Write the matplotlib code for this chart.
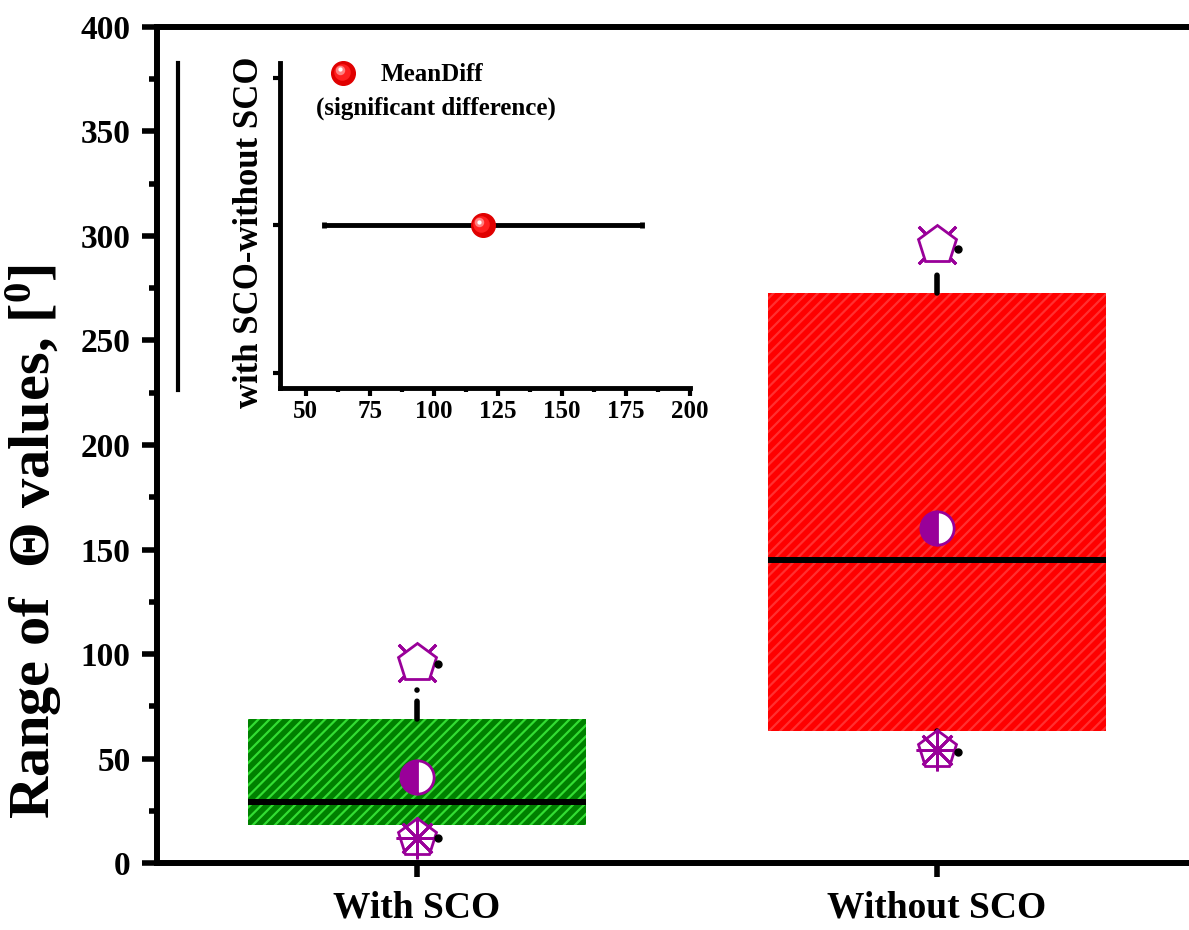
import matplotlib.pyplot as plt
import numpy as np
from matplotlib.lines import Line2D
from matplotlib.ticker import MultipleLocator, NullFormatter
from matplotlib.transforms import offset_copy

plt.rcParams['font.family'] = ['Liberation Serif', 'DejaVu Serif']
plt.rcParams['font.weight'] = 'bold'
plt.rcParams['axes.labelweight'] = 'bold'
plt.rcParams['mathtext.fontset'] = 'custom'
plt.rcParams['mathtext.rm'] = 'Liberation Serif:bold'
plt.rcParams['mathtext.bf'] = 'Liberation Serif:bold'
plt.rcParams['hatch.linewidth'] = 1.6

# box statistics for the two groups
groups = ['With SCO', 'Without SCO']
q1 = [18.2, 63.2]
q3 = [68.9, 272.7]
median = [29.2, 145.0]
mean = [41.1, 160.3]
whisk_lo = [14.0, 58.0]
whisk_hi = [83.0, 282.0]
vmin = [12.0, 54.0]
vmax = [95.7, 295.7]
pct_lo = [12.0, 53.0]
pct_hi = [95.0, 294.0]
box_colors = ['#008000', '#ff0000']
hatch_colors = ['#33dd33', '#ff3030']

# mean difference (with SCO - without SCO) and its interval
diff_mean = 119.0
diff_lo = 57.0
diff_hi = 181.0

purple = '#990099'
pos = np.arange(1, len(groups) + 1)
w = 0.65

fig = plt.figure(figsize=(11.89, 9.30), dpi=100)
ax = fig.add_axes([0.132, 0.072, 0.8747, 0.899])

for i in range(len(groups)):
    ax.bar(pos[i], q3[i] - q1[i], bottom=q1[i], width=w, color=box_colors[i],
           edgecolor=hatch_colors[i], hatch='///', linewidth=0, zorder=2)
    ax.plot([pos[i] - w / 2, pos[i] + w / 2], [median[i], median[i]],
            color='k', lw=4.3, solid_capstyle='butt', zorder=3)
    # whiskers
    ax.plot([pos[i], pos[i]], [q3[i], whisk_hi[i]], color='k', lw=4,
            linestyle=(0, (3.2, 2.0, 0.1, 2.0)), dash_capstyle='round', zorder=4)
    ax.plot([pos[i], pos[i]], [q1[i], whisk_lo[i]], color='k', lw=4,
            linestyle=(0, (3.2, 2.0, 0.1, 2.0)), dash_capstyle='round', zorder=4)

# mean: half filled circle
ax.plot(pos, mean, 'o', ms=24, mfc=purple, mfcalt='white', fillstyle='left',
        mec=purple, mew=2, ls='none', zorder=5)
# max: pentagon with x spikes behind it
ax.plot(pos, vmax, marker=(4, 2, 45), ms=38, mec=purple, mew=2, ls='none', zorder=5)
ax.plot(pos, vmax, 'p', ms=29, mfc='white', mec=purple, mew=2, ls='none', zorder=6)
# min: pentagon with asterisk on top
ax.plot(pos, vmin, 'p', ms=29, mfc='white', mec=purple, mew=2, ls='none', zorder=5)
ax.plot(pos, vmin, marker=(8, 2, 0), ms=30, mec=purple, mew=2, ls='none', zorder=6)
# percentile dots
ax.plot(pos + 0.04, pct_hi, 'o', ms=5, color='k', ls='none', zorder=7)
ax.plot(pos + 0.04, pct_lo, 'o', ms=5, color='k', ls='none', zorder=7)

ax.set_xlim(0.5, 2.5)
ax.set_ylim(0, 400)
ax.set_xticks(pos)
ax.set_xticklabels(groups)
ax.yaxis.set_major_locator(MultipleLocator(50))
ax.yaxis.set_minor_locator(MultipleLocator(25))
for s in ['left', 'bottom', 'top']:
    ax.spines[s].set_linewidth(4.3)
ax.spines['right'].set_visible(False)
ax.tick_params(axis='y', which='major', length=11, width=4, labelsize=24, pad=8)
ax.tick_params(axis='y', which='minor', length=6, width=4)
ax.tick_params(axis='x', which='major', length=10, width=4, labelsize=27, pad=10)
ax.set_ylabel('Range of  Θ values, [$\\mathregular{^0}$]', fontsize=42, fontweight='bold')
ax.yaxis.set_label_coords(-0.089, 0.385)

# inset: mean difference
ax_in = fig.add_axes([0.2355, 0.5828, 0.345, 0.3495])
ax_in.patch.set_alpha(0)
ax_in.errorbar(diff_mean, 1, xerr=[[diff_mean - diff_lo], [diff_hi - diff_mean]],
               fmt='none', ecolor='k', elinewidth=3.5, capsize=2.5, capthick=3.5)


def sphere(a, x, y, ms, trans):
    a.plot([x], [y], 'o', ms=ms, mfc='#e00000', mec='#e00000', transform=trans, clip_on=False)
    a.plot([x], [y], 'o', ms=ms * 0.7, mfc='#ff2020', mec='none',
           transform=offset_copy(trans, fig=fig, x=-1, y=1, units='points'), clip_on=False)
    a.plot([x], [y], 'o', ms=ms * 0.4, mfc='#ff8080', mec='none',
           transform=offset_copy(trans, fig=fig, x=-2.2, y=2.2, units='points'), clip_on=False)
    a.plot([x], [y], 'o', ms=ms * 0.18, mfc='white', mec='none',
           transform=offset_copy(trans, fig=fig, x=-2.6, y=2.6, units='points'), clip_on=False)


sphere(ax_in, diff_mean, 1, 17, ax_in.transData)
sphere(ax_in, 0.154, 0.969, 17, ax_in.transAxes)
ax_in.text(0.371, 0.963, 'MeanDiff', transform=ax_in.transAxes, fontsize=18,
           ha='center', va='center')
ax_in.text(0.38, 0.862, '(significant difference)', transform=ax_in.transAxes,
           fontsize=18, ha='center', va='center')

ax_in.set_xlim(40, 200)
ax_in.set_ylim(-0.1, 2.1)
ax_in.xaxis.set_major_locator(MultipleLocator(25))
ax_in.xaxis.set_minor_locator(MultipleLocator(12.5))
ax_in.set_xticks(np.arange(50, 201, 25))
ax_in.set_yticks([0, 1, 2])
ax_in.yaxis.set_major_formatter(NullFormatter())
for s in ['top', 'right']:
    ax_in.spines[s].set_visible(False)
for s in ['left', 'bottom']:
    ax_in.spines[s].set_linewidth(3.5)
ax_in.tick_params(axis='x', which='major', length=6, width=3, labelsize=18, pad=3)
ax_in.tick_params(axis='x', which='minor', length=3, width=3)
ax_in.tick_params(axis='y', which='major', length=5, width=3)
ax_in.set_ylabel('with SCO-without SCO', fontsize=25, fontweight='bold')
ax_in.yaxis.set_label_coords(-0.034, 0.48)

fig.add_artist(Line2D([0.1497, 0.1497], [0.5806, 0.9323], color='k', lw=3))

fig.savefig('out.png', dpi=100)
